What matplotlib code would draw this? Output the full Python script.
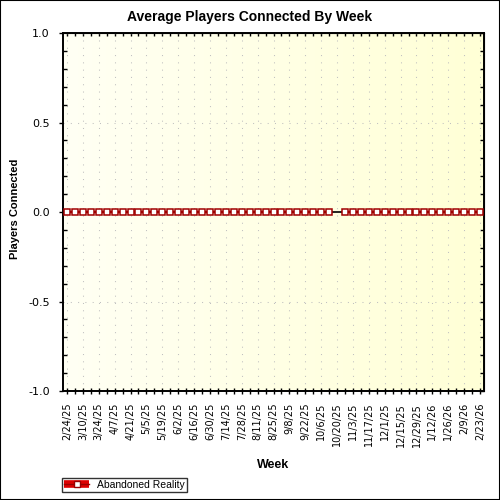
import matplotlib
matplotlib.use("Agg")
import matplotlib.pyplot as plt
import numpy as np
from matplotlib.lines import Line2D
from matplotlib.patches import Rectangle
from matplotlib.ticker import MultipleLocator, FixedLocator, NullFormatter, FormatStrFormatter

plt.rcParams['font.family'] = ['Liberation Sans', 'DejaVu Sans']

# ---- data ----
tick_labels = ["2/24/25", "3/10/25", "3/24/25", "4/7/25", "4/21/25", "5/5/25", "5/19/25",
               "6/2/25", "6/16/25", "6/30/25", "7/14/25", "7/28/25", "8/11/25", "8/25/25",
               "9/8/25", "9/22/25", "10/6/25", "10/20/25", "11/3/25", "11/17/25", "12/1/25",
               "12/15/25", "12/29/25", "1/12/26", "1/26/26", "2/9/26", "2/23/26"]
n_weeks = 53
series_name = "Abandoned Reality"
players = [0.0] * 34 + [np.nan] + [0.0] * 18   # 10/20/25 has no value

title = "Average Players Connected By Week"
xlabel = "Week"
ylabel = "Players Connected"

# ---- figure ----
fig = plt.figure(figsize=(5, 5), dpi=100)
ax = fig.add_axes([63/500, 1-391/500, (484-63)/500, (391-33)/500])

x = np.arange(n_weeks)
ax.set_xlim(-0.5, n_weeks - 0.5)
ax.set_ylim(-1.0, 1.0)

# gradient background
grad = np.linspace(0, 1, 256).reshape(1, -1)
c0 = np.array([1.0, 1.0, 0xF4/255])
c1 = np.array([1.0, 1.0, 0xD6/255])
img = c0[None, None, :] * (1 - grad[..., None]) + c1[None, None, :] * grad[..., None]
ax.imshow(img, extent=[0, 1, 0, 1], transform=ax.transAxes, aspect='auto', zorder=0)

# grid
ax.grid(True, which='major', color='#C0C0C0', linestyle=(0, (1, 6)), linewidth=0.75, zorder=1)

# zero line
ax.axhline(0, color='black', linewidth=1.2, zorder=2)

# series
ax.plot(x, players, color='#990000', linewidth=1.6, marker='s', markersize=4.7,
        markerfacecolor='white', markeredgecolor='#A00000', markeredgewidth=1.1, zorder=3)

# ticks
ax.xaxis.set_major_locator(FixedLocator(x[::2]))
ax.xaxis.set_minor_locator(FixedLocator(x[1::2]))
ax.set_xticklabels(tick_labels, rotation=90)
ax.tick_params(axis='x', which='both', direction='inout', length=5, width=1, pad=6,
               labelsize=7, labelfontfamily='DejaVu Sans')
ax.yaxis.set_major_locator(MultipleLocator(0.5))
ax.yaxis.set_minor_locator(MultipleLocator(0.1))
ax.yaxis.set_major_formatter(FormatStrFormatter('%.1f'))
ax.tick_params(axis='y', which='major', direction='out', length=3.2, width=1, pad=6.3,
               labelsize=8, labelfontfamily='DejaVu Sans')
ax.tick_params(axis='y', which='minor', direction='in', length=3, width=1)

for s in ax.spines.values():
    s.set_linewidth(1.4)

top = ax.secondary_xaxis('top')
top.xaxis.set_major_locator(FixedLocator(x))
top.xaxis.set_major_formatter(NullFormatter())
top.tick_params(direction='in', length=2.5, width=1)

right = ax.secondary_yaxis('right')
right.yaxis.set_major_locator(MultipleLocator(0.1))
right.yaxis.set_major_formatter(NullFormatter())
right.tick_params(direction='in', length=3, width=1)

# texts
fig.text(0.5, 1-17/500, title, ha='center', va='center', fontsize=10, fontweight='bold')
fig.text(15/500, 1-209/500, ylabel, ha='center', va='center', rotation=90, fontsize=8, fontweight='bold')
fig.text(273/500, 1-465/500, xlabel, ha='center', va='center', fontsize=9, fontweight='bold')

# legend
handle = (Line2D([], [], color='#DD0000', linewidth=5.5, solid_capstyle='butt'),
          Line2D([], [], color='#990000', linewidth=1, marker='s', markersize=5,
                 markerfacecolor='white', markeredgecolor='#990000'))
leg = fig.legend([handle], [series_name], loc='lower left',
                 bbox_to_anchor=(62/500, 1-492/500), fontsize=7.5, frameon=True,
                 fancybox=False, edgecolor='black', borderpad=0.2, handlelength=2.4,
                 handletextpad=0.8, borderaxespad=0)
leg.get_frame().set_linewidth(1)

# figure border
fig.patches.append(Rectangle((0, 0), 1, 1, transform=fig.transFigure, fill=False,
                             edgecolor='black', linewidth=1.5))

fig.savefig("out.png", dpi=100)
